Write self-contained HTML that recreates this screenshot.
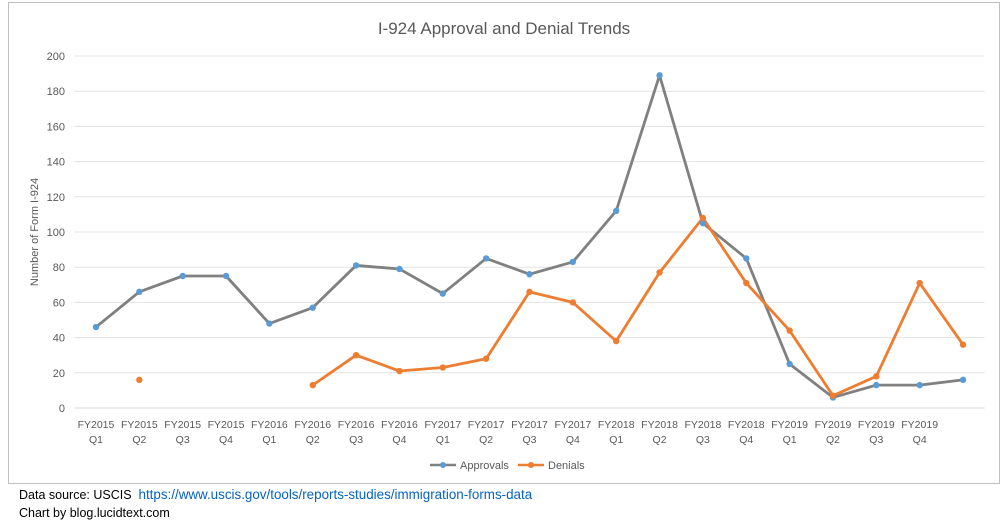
<!DOCTYPE html>
<html><head><meta charset="utf-8"><style>
body{margin:0;background:#fff;font-family:"Liberation Sans",sans-serif;}
#wrap{position:relative;width:1008px;height:526px;}
svg text{font-family:"Liberation Sans",sans-serif;}
.foot{position:absolute;left:19px;font-size:12.5px;color:#000;}
.foot a{color:#0563c1;text-decoration:none;font-size:13.4px;}
</style></head><body>
<div id="wrap">
<svg id="chart" width="1008" height="490">
<rect x="8.5" y="2.5" width="991" height="481" fill="#fff" stroke="#bfbfbf"/>
<text x="504" y="34" text-anchor="middle" font-size="17" fill="#595959">I-924 Approval and Denial Trends</text>
<text transform="translate(38,232) rotate(-90)" text-anchor="middle" font-size="11" fill="#595959">Number of Form I-924</text>
<g id="grid"></g><g id="xlabels"></g><g id="series"></g>
<g>
<line x1="430" y1="465" x2="456" y2="465" stroke="#808080" stroke-width="2.5"/><circle cx="443" cy="465" r="3" fill="#5b9bd5"/>
<text x="460" y="469" font-size="11" fill="#595959">Approvals</text>
<line x1="518" y1="465" x2="544" y2="465" stroke="#ed7d31" stroke-width="2.5"/><circle cx="531" cy="465" r="3" fill="#ed7d31"/>
<text x="548" y="469" font-size="11" fill="#595959">Denials</text>
</g>
</svg>
<div class="foot" style="top:487px">Data source: USCIS &nbsp;<a href="#">https://www.uscis.gov/tools/reports-studies/immigration-forms-data</a></div>
<div class="foot" style="top:506px">Chart by blog.lucidtext.com</div>
</div>
<script>
const categories=["FY2015|Q1","FY2015|Q2","FY2015|Q3","FY2015|Q4","FY2016|Q1","FY2016|Q2","FY2016|Q3","FY2016|Q4","FY2017|Q1","FY2017|Q2","FY2017|Q3","FY2017|Q4","FY2018|Q1","FY2018|Q2","FY2018|Q3","FY2018|Q4","FY2019|Q1","FY2019|Q2","FY2019|Q3","FY2019|Q4",""];
const approvals=[46,66,75,75,48,57,81,79,65,85,76,83,112,189,105,85,25,6,13,13,16];
const denials=[null,16,null,null,null,13,30,21,23,28,66,60,38,77,108,71,44,7,18,71,36];
const yTicks=[0,20,40,60,80,100,120,140,160,180,200];
const NS="http://www.w3.org/2000/svg";
const L=74.3,R=984.7,Y0=408,Y1=56,YMAX=200;
const step=(R-L)/categories.length;
const xs=i=>L+step*(i+0.5);
const ys=v=>Y0-(v/YMAX)*(Y0-Y1);
function mk(tag,attrs,parent){const e=document.createElementNS(NS,tag);for(const k in attrs)e.setAttribute(k,attrs[k]);parent.appendChild(e);return e;}
const grid=document.getElementById('grid');
yTicks.forEach(t=>{
 const ln=mk('line',{x1:L,x2:R,y1:ys(t),y2:ys(t),stroke:t===0?'#d9d9d9':'#e3e3e3','stroke-width':1},grid);
 
 
 const tx=mk('text',{x:65,y:ys(t)+4,'text-anchor':'end','font-size':11,fill:'#595959'},grid);
 tx.textContent=t;
 
 
});
const xl=document.getElementById('xlabels');
categories.forEach((c,i)=>{
 const p=c.split('|');
 p.forEach((s,j)=>{if(!s)return;
  const tx=mk('text',{x:xs(i),y:428+j*15,'text-anchor':'middle','font-size':10.5,fill:'#595959'},xl);
  tx.textContent=s;
  
  
 });
});
const sg=document.getElementById('series');
function draw(data,color,name){
 let seg=[];const segs=[];
 data.forEach((v,i)=>{if(v==null){if(seg.length)segs.push(seg);seg=[];}else seg.push([xs(i),ys(v)]);});
 if(seg.length)segs.push(seg);
 segs.forEach(s=>{if(s.length>1){
  const pl=mk('polyline',{points:s.map(p=>p.join(',')).join(' '),fill:'none',stroke:color,'stroke-width':2.8,'stroke-linejoin':'round'},sg);
  
  
 }});
}
function dots(data,color,name){
 data.forEach((v,i)=>{if(v==null)return;
  const c=mk('circle',{cx:xs(i),cy:ys(v),r:3.2,fill:color},sg);
  
  
 });
}
draw(approvals,'#808080','approvals');
draw(denials,'#ed7d31','denials');
dots(approvals,'#5b9bd5','approvals');
dots(denials,'#ed7d31','denials');
</script>
</body></html>
